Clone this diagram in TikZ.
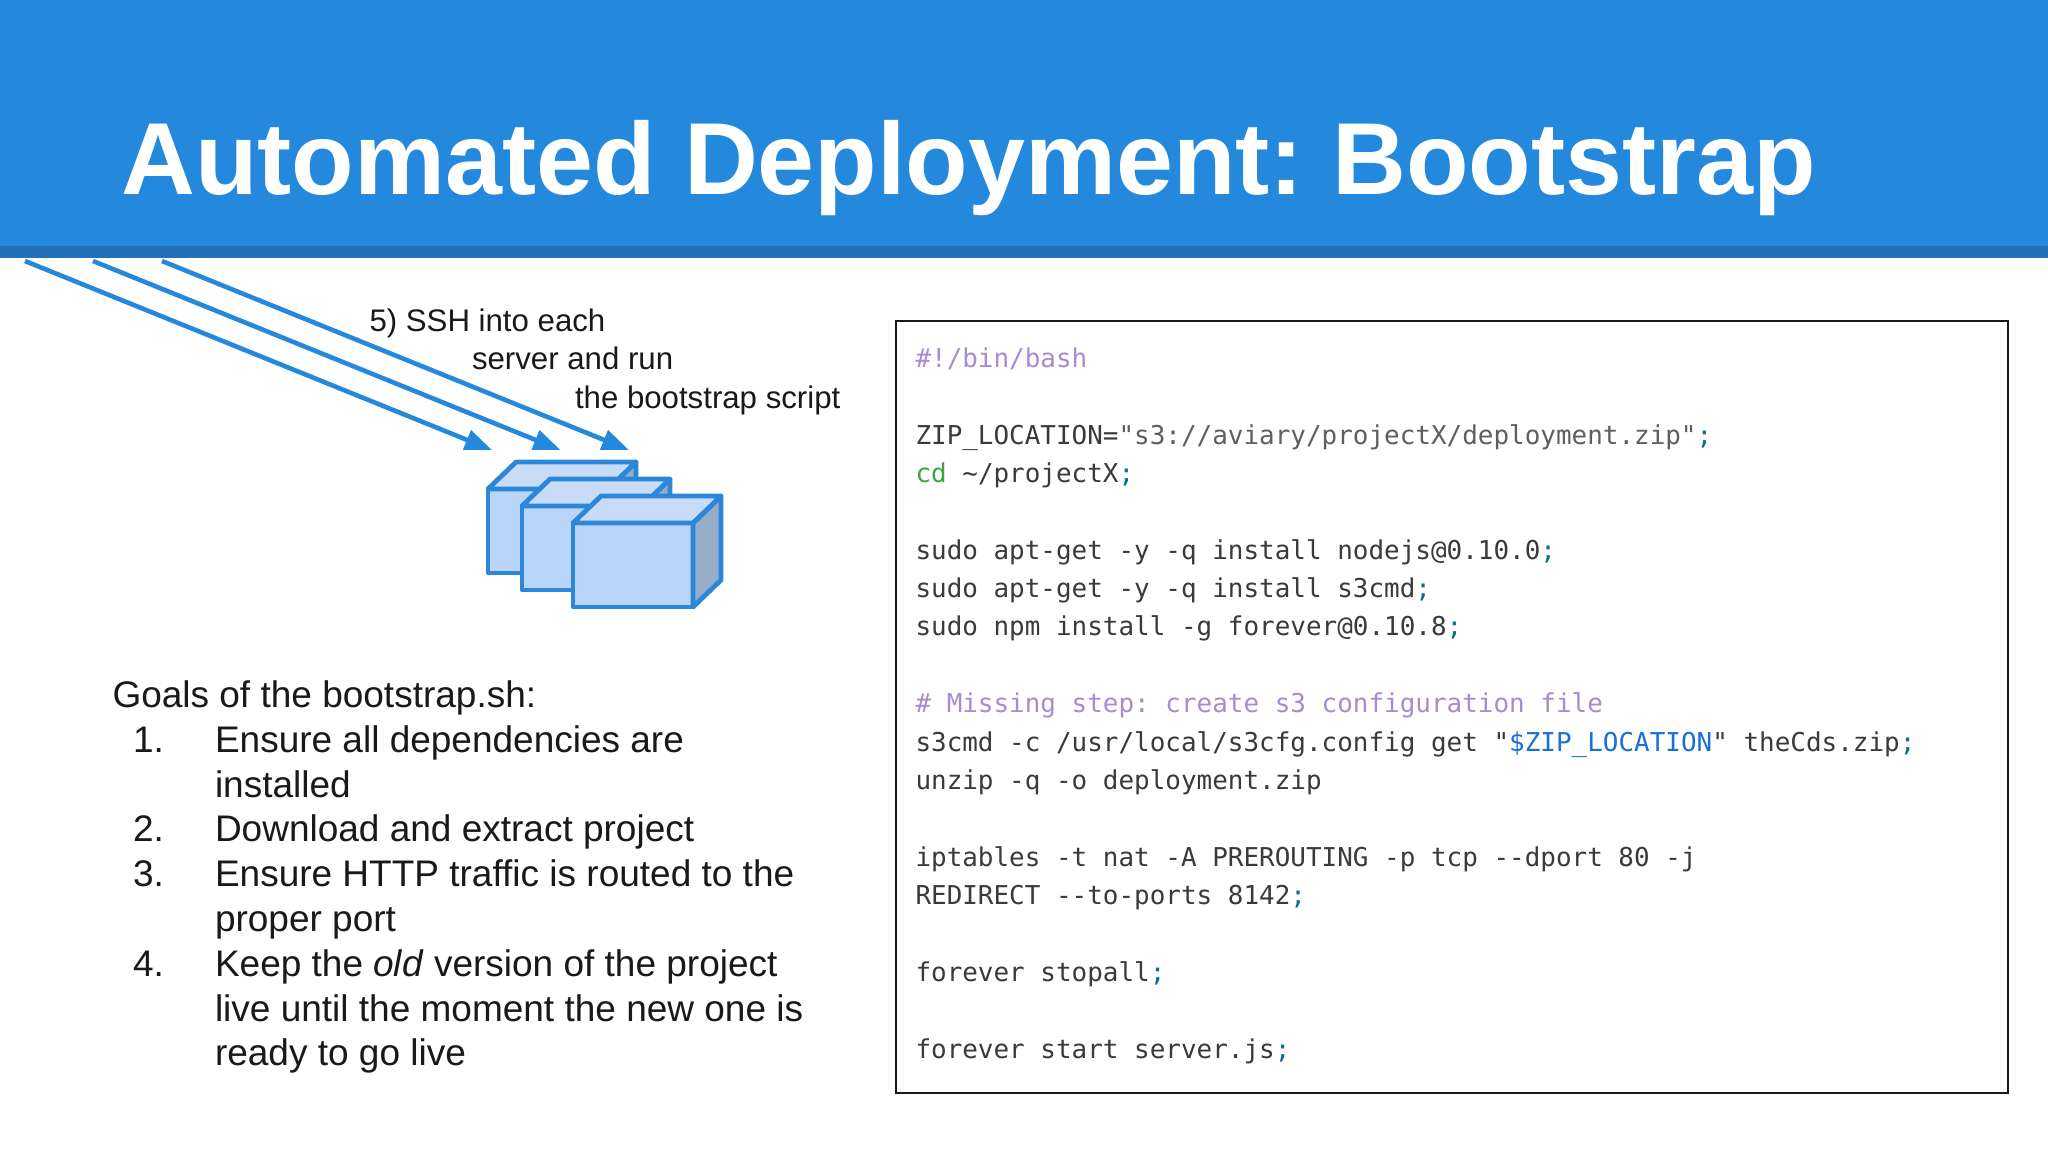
\documentclass[tikz,border=0pt]{standalone}
\usepackage{fontspec}
\setmainfont{Liberation Sans}
\newfontfamily\codefont{DejaVu Sans Mono}
\usetikzlibrary{arrows.meta}
\definecolor{hdr}{HTML}{2488DD}
\definecolor{hdrdark}{HTML}{2370B8}
\definecolor{cubeline}{HTML}{2A87D9}
\definecolor{cubefront}{HTML}{B9D5F8}
\definecolor{cubetop}{HTML}{C8DCF7}
\definecolor{cubeside}{HTML}{95ADC9}
\definecolor{codetxt}{HTML}{3A3A3A}
\definecolor{codestr}{HTML}{5F5F5F}
\definecolor{codecmt}{HTML}{A98BCF}
\definecolor{codecmd}{HTML}{3FA33F}
\definecolor{codesemi}{HTML}{0B6C96}
\definecolor{codevar}{HTML}{1670D8}
\newcommand{\semi}{\textcolor{codesemi}{;}}
\newcommand{\drawcube}[2]{%
  \fill[cubefront] (#1,#2) rectangle ++(120,84);
  \filldraw[cubeface,fill=cubeside] (#1+120,#2) -- ++(28,-27) -- ++(0,84) -- ++(-28,27) -- cycle;
  \filldraw[cubeface,fill=cubetop] (#1,#2) -- ++(28,-27) -- ++(120,0) -- ++(-28,27) -- cycle;
  \draw[cubeface] (#1,#2) rectangle ++(120,84);
}
\tikzset{
  cubeface/.style={draw=cubeline,line width=4.8pt,line join=round},
  sshline/.style={draw=hdr,line width=4.6pt,-{Triangle[length=27pt,width=20pt]}},
  codeline/.style={anchor=base west,inner sep=0pt,outer sep=0pt,font=\frenchspacing\codefont\fontsize{25.95pt}{30pt}\selectfont,text=codetxt},
  body/.style={anchor=base west,inner sep=0pt,outer sep=0pt,font=\fontsize{37pt}{44pt}\selectfont,text=black!90},
  small/.style={anchor=base west,inner sep=0pt,outer sep=0pt,font=\fontsize{31.2pt}{38pt}\selectfont,text=black!90},
}
\begin{document}
\begin{tikzpicture}[x=1pt,y=-1pt]
\useasboundingbox (0,0) rectangle (2048,1152);
\fill[white] (0,0) rectangle (2048,1152);
\fill[hdr] (0,0) rectangle (2048,246);
\fill[hdrdark] (0,246) rectangle (2048,257.5);
\node[anchor=base west,inner sep=0pt,text=white,font=\frenchspacing\bfseries\fontsize{102.35pt}{110pt}\selectfont] (title) at (121,194) {Automated Deployment: Bootstrap};

\coordinate (s1) at (25,261); \coordinate (t1) at (492,450);
\coordinate (s2) at (93,261); \coordinate (t2) at (560.5,450);
\coordinate (s3) at (162,261); \coordinate (t3) at (629,450);
\draw[sshline] (s1) -- (t1);
\draw[sshline] (s2) -- (t2);
\draw[sshline] (s3) -- (t3);

\node[small] (l1) at (369.5,331) {5) SSH into each};
\node[small] (l2) at (472,369.5) {server and run};
\node[small] (l3) at (575,408) {the bootstrap script};

\drawcube{488}{489}
\drawcube{522}{506}
\drawcube{573}{523}

\node[body] (g0) at (112.5,707) {Goals of the bootstrap.sh:};
\node[body] (n1) at (133,752) {1.};
\node[body] (g1) at (215,752) {Ensure all dependencies are};
\node[body] (g1b) at (215,797) {installed};
\node[body] (n2) at (133,841.5) {2.};
\node[body] (g2) at (215,841.5) {Download and extract project};
\node[body] (n3) at (133,886.5) {3.};
\node[body] (g3) at (215,886.5) {Ensure HTTP traffic is routed to the};
\node[body] (g3b) at (215,931) {proper port};
\node[body] (n4) at (133,976) {4.};
\node[body] (g4) at (215,976) {Keep the \textit{old} version of the project};
\node[body] (g4b) at (215,1021) {live until the moment the new one is};
\node[body] (g4c) at (215,1065.5) {ready to go live};

\draw[draw=black!90,line width=2.6pt,fill=white] (896,321) rectangle (2008,1093);
\def\cx{915.5}
\node[codeline,text=codecmt] (c0) at (\cx,367) {\#!/bin/bash};
\node[codeline] (c2) at (\cx,444.4) {ZIP\_LOCATION=\textcolor{codestr}{"s3://aviary/projectX/deployment.zip"}\semi};
\node[codeline] (c3) at (\cx,482.6) {\textcolor{codecmd}{cd} \textasciitilde/projectX\semi};
\node[codeline] (c5) at (\cx,559) {sudo apt-get -y -q install nodejs@0.10.0\semi};
\node[codeline] (c6) at (\cx,597.4) {sudo apt-get -y -q install s3cmd\semi};
\node[codeline] (c7) at (\cx,635.8) {sudo npm install -g forever@0.10.8\semi};
\node[codeline,text=codecmt] (c9) at (\cx,712.6) {\# Missing step: create s3 configuration file};
\node[codeline] (c10) at (\cx,751) {s3cmd -c /usr/local/s3cfg.config get "\textcolor{codevar}{\$ZIP\_LOCATION}" theCds.zip\semi};
\node[codeline] (c11) at (\cx,789.4) {unzip -q -o deployment.zip};
\node[codeline] (c13) at (\cx,866.2) {iptables -t nat -A PREROUTING -p tcp --dport 80 -j};
\node[codeline] (c14) at (\cx,904.6) {REDIRECT --to-ports 8142\semi};
\node[codeline] (c16) at (\cx,981.4) {forever stopall\semi};
\node[codeline] (c18) at (\cx,1058.2) {forever start server.js\semi};
\end{tikzpicture}
\end{document}
